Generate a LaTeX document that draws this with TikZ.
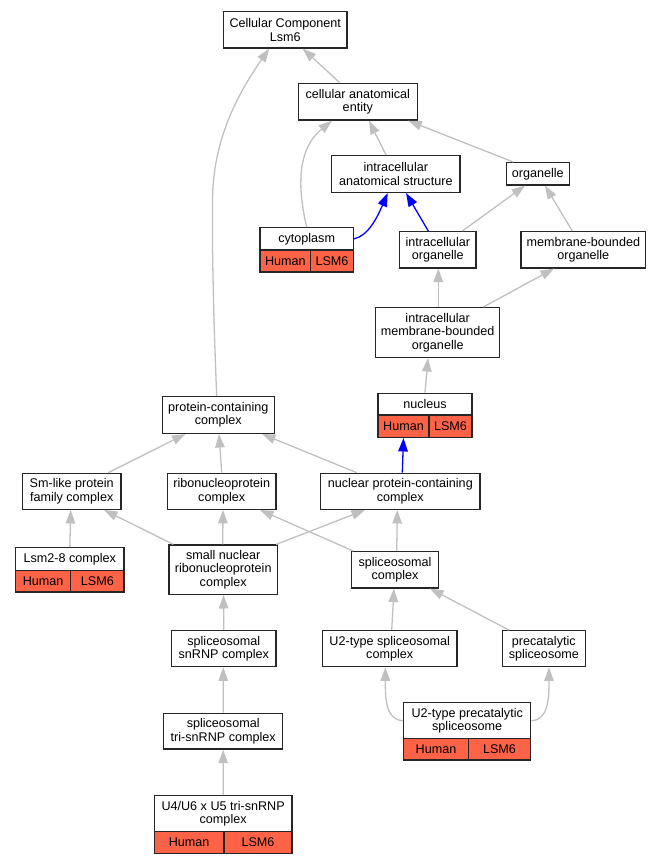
\documentclass[tikz,border=0pt]{standalone}
\usepackage{fontspec}
\setmainfont{Liberation Sans}
\usetikzlibrary{arrows.meta}
\definecolor{edgegray}{HTML}{C0C0C0}
\definecolor{tomato}{HTML}{FF6347}
\begin{document}
\begin{tikzpicture}[x=1pt,y=-1pt,
  box/.style={draw=black!85, line width=1.3pt, fill=white, inner sep=0pt, align=center, font=\fontsize{12.6}{13.4}\selectfont},
  cell/.style={box, fill=tomato},
  isa/.style={draw=edgegray, line width=1.3pt, -{Triangle[length=13.5pt,width=9.5pt]}},
  partof/.style={draw=blue, line width=1.3pt, -{Triangle[length=13.5pt,width=9.5pt]}}]
\useasboundingbox (0,0) rectangle (660,864);
% plain nodes
\node[box, minimum width=123.7pt, minimum height=36.3pt] (cc) at (285.2,29.8) {Cellular Component\\Lsm6};
\node[box, minimum width=119pt, minimum height=36.7pt] (cae) at (357.8,101.7) {cellular anatomical\\entity};
\node[box, minimum width=128.3pt, minimum height=36.7pt] (ias) at (395.8,174) {intracellular\\anatomical structure};
\node[box, minimum width=63pt, minimum height=22.3pt] (org) at (537.8,173.8) {organelle};
\node[box, minimum width=76.3pt, minimum height=36.3pt] (io) at (437.8,249.8) {intracellular\\organelle};
\node[box, minimum width=124.7pt, minimum height=36.3pt] (mbo) at (583.3,249.8) {membrane-bounded\\organelle};
\node[box, minimum width=124pt, minimum height=49.7pt] (imbo) at (437.7,332.5) {intracellular\\membrane-bounded\\organelle};
\node[box, minimum width=112pt, minimum height=36.7pt] (pcc) at (218.3,415) {protein-containing\\complex};
\node[box, minimum width=98.7pt, minimum height=36pt] (sm) at (71.7,491.3) {Sm-like protein\\family complex};
\node[box, minimum width=108.7pt, minimum height=36pt] (rnp) at (221.7,491.3) {ribonucleoprotein\\complex};
\node[box, minimum width=159.3pt, minimum height=36pt] (npc) at (400.3,491.3) {nuclear protein-containing\\complex};
\node[box, minimum width=108.3pt, minimum height=49.3pt] (snrnp) at (223.2,569.7) {small nuclear\\ribonucleoprotein\\complex};
\node[box, minimum width=86.7pt, minimum height=36.3pt] (spl) at (395,569.8) {spliceosomal\\complex};
\node[box, minimum width=104.3pt, minimum height=36pt] (ssnrnp) at (223.8,648.7) {spliceosomal\\snRNP complex};
\node[box, minimum width=134.7pt, minimum height=36pt] (u2) at (389.7,648.7) {U2-type spliceosomal\\complex};
\node[box, minimum width=83pt, minimum height=36pt] (pre) at (543.8,648.7) {precatalytic\\spliceosome};
\node[box, minimum width=119pt, minimum height=35.7pt] (tri) at (223.2,731.2) {spliceosomal\\tri-snRNP complex};
% annotated nodes
\node[box, minimum width=93.3pt, minimum height=22.3pt] (cyto) at (306.65,238.85) {cytoplasm};
\node[cell, minimum width=50.7pt, minimum height=22pt] (cytoH) at (285.35,261) {Human};
\node[cell, minimum width=42.6pt, minimum height=22pt] (cytoL) at (332,261) {LSM6};
\node[box, minimum width=94pt, minimum height=21.7pt] (nuc) at (425,404.15) {nucleus};
\node[cell, minimum width=51pt, minimum height=22.3pt] (nucH) at (403.5,426.15) {Human};
\node[cell, minimum width=43pt, minimum height=22.3pt] (nucL) at (450.5,426.15) {LSM6};
\node[box, minimum width=108.3pt, minimum height=23pt] (lsm) at (69.85,559.2) {Lsm2-8 complex};
\node[cell, minimum width=55pt, minimum height=21.3pt] (lsmH) at (43.2,581.35) {Human};
\node[cell, minimum width=53.3pt, minimum height=21.3pt] (lsmL) at (97.35,581.35) {LSM6};
\node[box, minimum width=127pt, minimum height=36pt] (u2pre) at (467.2,720.7) {U2-type precatalytic\\spliceosome};
\node[cell, minimum width=64.6pt, minimum height=21.3pt] (u2preH) at (436,749.35) {Human};
\node[cell, minimum width=62.4pt, minimum height=21.3pt] (u2preL) at (499.5,749.35) {LSM6};
\node[box, minimum width=137.7pt, minimum height=36pt] (u4) at (223.15,813.7) {U4/U6 x U5 tri-snRNP\\complex};
\node[cell, minimum width=69.7pt, minimum height=21.6pt] (u4H) at (189.15,842.5) {Human};
\node[cell, minimum width=68pt, minimum height=21.6pt] (u4L) at (258,842.5) {LSM6};
% edges
\draw[isa] ([xshift=-18pt]cae.north) -- ([xshift=17.5pt]cc.south);
\draw[isa] ([xshift=-1.6pt]pcc.north) .. controls (214,330) and (212,260) .. (212.5,200) .. controls (213,140) and (237,95) .. ([xshift=-16pt]cc.south);
\draw[isa] ([xshift=-9.8pt]ias.north) -- ([xshift=11.2pt]cae.south);
\draw[isa] ([xshift=-24.5pt]org.north) -- ([xshift=50.5pt]cae.south);
\draw[isa] ([xshift=0pt]cyto.north) .. controls (298,190) and (296,150) .. ([xshift=-25.8pt]cae.south);
\draw[partof] (cyto.east) .. controls (368,236) and (377,218) .. ([xshift=-8.1pt]ias.south);
\draw[partof] ([xshift=-9.5pt]io.north) -- ([xshift=10.2pt]ias.south);
\draw[isa] ([xshift=24.5pt]io.north) -- ([xshift=-12.8pt]org.south);
\draw[isa] ([xshift=-11pt]mbo.north) -- ([xshift=7.2pt]org.south);
\draw[isa] ([xshift=0.6pt]imbo.north) -- ([xshift=0.5pt]io.south);
\draw[isa] ([xshift=45.6pt]imbo.north) -- ([xshift=-29.3pt]mbo.south);
\draw[isa] (nuc.north) -- ([xshift=-9.7pt]imbo.south);
\draw[partof] ([xshift=2pt]npc.north) -- (nucH.south);
\draw[isa] ([xshift=-43.6pt]npc.north) -- ([xshift=43.7pt]pcc.south);
\draw[isa] ([xshift=36.6pt]sm.north) -- ([xshift=-32.8pt]pcc.south);
\draw[isa] (rnp.north) -- ([xshift=0.7pt]pcc.south);
\draw[isa] (lsm.north) -- ([xshift=-1pt]sm.south);
\draw[isa] ([xshift=-49.9pt]snrnp.north) -- ([xshift=32.3pt]sm.south);
\draw[isa] ([xshift=-0.5pt]snrnp.north) -- ([xshift=1.3pt]rnp.south);
\draw[isa] ([xshift=53pt]snrnp.north) -- ([xshift=-35.3pt]npc.south);
\draw[isa] ([xshift=-41.7pt]spl.north) -- ([xshift=38.3pt]rnp.south);
\draw[isa] ([xshift=1.7pt]spl.north) -- ([xshift=-3pt]npc.south);
\draw[isa] (ssnrnp.north) -- ([xshift=0.3pt]snrnp.south);
\draw[isa] ([xshift=2pt]u2.north) -- ([xshift=-1pt]spl.south);
\draw[isa] ([xshift=-34.8pt]pre.north) -- ([xshift=35pt]spl.south);
\draw[isa] (tri.north) -- ([xshift=-0.5pt]ssnrnp.south);
\draw[isa] (u2pre.west) .. controls (386,720) and (385.3,700) .. ([xshift=-4.4pt]u2.south);
\draw[isa] (u2pre.east) .. controls (548,720) and (549,700) .. ([xshift=5.2pt]pre.south);
\draw[isa] (u4.north) -- (tri.south);
\end{tikzpicture}
\end{document}
